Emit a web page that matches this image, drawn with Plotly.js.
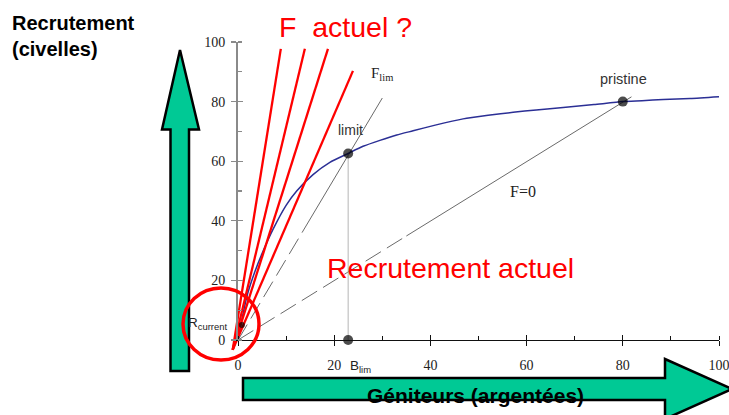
<!DOCTYPE html>
<html>
<head>
<meta charset="utf-8">
<script src="https://cdn.plot.ly/plotly-3.0.1.min.js"></script>
<style>
  html, body { margin: 0; padding: 0; background: #fff; }
  #chart { width: 729px; height: 415px; }
</style>
</head>
<body>
<div id="chart"></div>
<script>
// Stock–recruitment relationship (spawners vs recruits)
const spawners = [0, 1, 2, 3.5, 5, 7.3, 10, 12.2, 15.6, 19.1, 22.9, 26, 29.5, 33, 36.4, 41, 46.8, 52, 57.2, 62, 67.6, 74, 80, 84, 88.4, 94, 100];
const recruits = [0, 8.4, 15.5, 22.9, 29, 37.2, 45.2, 50, 55.5, 59.6, 62.6, 65, 67, 68.8, 70.2, 72.1, 74.2, 75.4, 76.4, 77.2, 78, 79, 80, 80.3, 80.7, 81.0, 81.6];

// Replacement lines: F_lim through the limit point, F=0 through the pristine point
const fLimX = [0, 15, 30];
const fLimY = [0, 40.6, 81.2];
const fZeroX = [0, 35, 81.8];
const fZeroY = [0, 34.9, 81.6];

// Current fishing mortality lines (start, end)
const fCurStartX = [-1.1, -1.1, -1.1, -1.1];
const fCurStartY = [-3.3, -3.3, -3.3, -3.3];
const fCurEndX = [8.9, 13.9, 18.7, 23.9];
const fCurEndY = [97.7, 97.7, 97.7, 90.3];

// Reference points
const pointX = [22.9, 80, 22.9, 0.8];
const pointY = [62.6, 80, 0, 5];
const pointSize = [10, 10, 10, 6];

// Axis ticks
const tickVals = [0, 20, 40, 60, 80, 100];

// Page geometry (pixels)
const W = 729, H = 415;
const PX0 = 238, PX100 = 719, PY0 = 340, PY100 = 42;
const xu = (PX100 - PX0) / 100, yu = (PY0 - PY100) / 100;
const px = v => v / W;
const py = v => 1 - v / H;

const serif = 'Liberation Serif, Times New Roman, serif';
const sans = 'Liberation Sans, Arial, sans-serif';

const traces = [];
// F_lim line: dashed low, solid above
traces.push({x: fLimX.slice(0, 2), y: fLimY.slice(0, 2), mode: 'lines',
  line: {color: '#6a6a6a', width: 1, dash: '18px,7px'}, hoverinfo: 'skip'});
traces.push({x: fLimX.slice(1), y: fLimY.slice(1), mode: 'lines',
  line: {color: '#6a6a6a', width: 1}, hoverinfo: 'skip'});
// F=0 line
traces.push({x: fZeroX.slice(0, 2), y: fZeroY.slice(0, 2), mode: 'lines',
  line: {color: '#6a6a6a', width: 1, dash: '18px,7px'}, hoverinfo: 'skip'});
traces.push({x: fZeroX.slice(1), y: fZeroY.slice(1), mode: 'lines',
  line: {color: '#6a6a6a', width: 1}, hoverinfo: 'skip'});
// Drop line from the limit point to B_lim
traces.push({x: [pointX[0], pointX[2]], y: [pointY[0], pointY[2]], mode: 'lines',
  line: {color: '#b5b5b5', width: 1}, hoverinfo: 'skip'});
// Stock-recruitment curve
traces.push({x: spawners, y: recruits, mode: 'lines',
  line: {color: '#2b2f95', width: 1.5, shape: 'spline', smoothing: 0.6}, hoverinfo: 'skip'});
// Current F lines
for (let i = 0; i < fCurEndX.length; i++) {
  traces.push({x: [fCurStartX[i], fCurEndX[i]], y: [fCurStartY[i], fCurEndY[i]], mode: 'lines',
    line: {color: '#ff0000', width: 2.3}, hoverinfo: 'skip'});
}
// Points on the visible axes
traces.push({x: pointX, y: pointY, xaxis: 'x2', yaxis: 'y2', mode: 'markers', cliponaxis: false,
  marker: {color: '#000', size: pointSize, line: {width: 0}}, hoverinfo: 'skip'});
// Anchor for the inner half of the major ticks
traces.push({x: pointX, y: pointY, xaxis: 'x3', yaxis: 'y3', mode: 'markers',
  marker: {opacity: 0}, hoverinfo: 'skip'});

const dom = {
  x: [PX0 / W, PX100 / W],
  y: [(H - PY0) / H, (H - PY100) / H]
};

const layout = {
  width: W, height: H,
  margin: {l: 0, r: 0, t: 0, b: 0},
  paper_bgcolor: '#fff', plot_bgcolor: 'rgba(0,0,0,0)',
  showlegend: false,
  xaxis: {range: [-PX0 / xu, (W - PX0) / xu], visible: false, fixedrange: true},
  yaxis: {range: [-(H - PY0) / yu, PY0 / yu], visible: false, fixedrange: true},
  xaxis2: {
    domain: dom.x, anchor: 'y2', range: [0, 100], fixedrange: true,
    showline: true, linecolor: '#111', linewidth: 1.2,
    ticks: 'outside', ticklen: 5, tickcolor: '#111', tickwidth: 1,
    tickvals: tickVals, ticktext: tickVals.map(String),
    tickfont: {family: serif, size: 14, color: '#222'}, ticklabelstandoff: 7,
    ticklabeloverflow: 'allow',
    minor: {ticks: 'inside', ticklen: 4, dtick: 10, tick0: 0, tickcolor: '#111', tickwidth: 1},
    showgrid: false, zeroline: false
  },
  yaxis2: {
    domain: dom.y, anchor: 'x2', range: [0, 100], fixedrange: true,
    showline: true, linecolor: '#8a8a8a', linewidth: 2,
    ticks: 'outside', ticklen: 5, tickcolor: '#8a8a8a', tickwidth: 1.2,
    tickvals: tickVals, ticktext: tickVals.map(String),
    tickfont: {family: serif, size: 14, color: '#222'}, ticklabelstandoff: 3,
    ticklabeloverflow: 'allow',
    minor: {ticks: 'inside', ticklen: 4, dtick: 10, tick0: 0, tickcolor: '#8a8a8a', tickwidth: 1.2},
    showgrid: false, zeroline: false
  },
  xaxis3: {
    domain: dom.x, anchor: 'y3', overlaying: 'x2', range: [0, 100], fixedrange: true,
    showline: false, ticks: 'inside', ticklen: 5, tickcolor: '#111', tickwidth: 1,
    tickvals: tickVals, showticklabels: false, showgrid: false, zeroline: false
  },
  yaxis3: {
    domain: dom.y, anchor: 'x3', overlaying: 'y2', range: [0, 100], fixedrange: true,
    showline: false, ticks: 'inside', ticklen: 5, tickcolor: '#8a8a8a', tickwidth: 1.2,
    tickvals: tickVals, showticklabels: false, showgrid: false, zeroline: false
  },
  shapes: [
    // Vertical arrow (recruitment)
    {type: 'path', xref: 'paper', yref: 'paper', layer: 'below',
     path: `M${px(170.5)},${py(371)} L${px(189)},${py(371)} L${px(189)},${py(129.5)} L${px(199)},${py(129.5)} ` +
           `L${px(180)},${py(50)} L${px(162)},${py(129.5)} L${px(170.5)},${py(129.5)} Z`,
     fillcolor: '#00c995', line: {color: '#000', width: 2.5}},
    // Horizontal arrow (spawners)
    {type: 'path', xref: 'paper', yref: 'paper', layer: 'below',
     path: `M${px(243)},${py(378)} L${px(665)},${py(378)} L${px(665)},${py(359)} L${px(732)},${py(389)} ` +
           `L${px(665)},${py(419)} L${px(665)},${py(400)} L${px(243)},${py(400)} Z`,
     fillcolor: '#00c995', line: {color: '#000', width: 2.5}},
    // Circle around current recruitment
    {type: 'circle', xref: 'paper', yref: 'paper', layer: 'above',
     x0: px(183), x1: px(259), y0: py(360), y1: py(288),
     line: {color: '#ff0000', width: 3.5}}
  ],
  annotations: [
    {xref: 'paper', yref: 'paper', x: px(10), y: py(10), xanchor: 'left', yanchor: 'top', align: 'left',
     text: '<b>Recrutement<br>(civelles)</b>', showarrow: false,
     font: {family: sans, size: 20, color: '#000'}},
    {xref: 'paper', yref: 'paper', x: px(345), y: py(27), xanchor: 'center', yanchor: 'middle',
     text: 'F\u00a0\u00a0actuel ?', showarrow: false,
     font: {family: sans, size: 28.5, color: '#ff0000'}},
    {xref: 'paper', yref: 'paper', x: px(450), y: py(268), xanchor: 'center', yanchor: 'middle',
     text: 'Recrutement actuel', showarrow: false,
     font: {family: sans, size: 28.5, color: '#ff0000'}},
    {xref: 'paper', yref: 'paper', x: px(369), y: py(74), xanchor: 'left', yanchor: 'middle',
     text: 'F<sub>lim</sub>', showarrow: false,
     font: {family: serif, size: 15, color: '#222'}},
    {xref: 'paper', yref: 'paper', x: px(350), y: py(130), xanchor: 'center', yanchor: 'middle',
     text: 'limit', showarrow: false,
     font: {family: sans, size: 14, color: '#333'}},
    {xref: 'paper', yref: 'paper', x: px(623.5), y: py(79), xanchor: 'center', yanchor: 'middle',
     text: 'pristine', showarrow: false,
     font: {family: sans, size: 14.5, color: '#333'}},
    {xref: 'paper', yref: 'paper', x: px(523), y: py(191), xanchor: 'center', yanchor: 'middle',
     text: 'F=0', showarrow: false,
     font: {family: serif, size: 16, color: '#222'}},
    {xref: 'paper', yref: 'paper', x: px(230), y: py(323), xanchor: 'right', yanchor: 'middle',
     text: 'R<sub>current</sub>', showarrow: false,
     font: {family: sans, size: 13.5, color: '#222'}},
    {xref: 'paper', yref: 'paper', x: px(348), y: py(366), xanchor: 'left', yanchor: 'middle',
     text: 'B<sub>lim</sub>', showarrow: false,
     font: {family: sans, size: 13.5, color: '#222'}},
    {xref: 'paper', yref: 'paper', x: px(476), y: py(395), xanchor: 'center', yanchor: 'middle',
     text: '<b>Géniteurs (argentées)</b>', showarrow: false,
     font: {family: sans, size: 21, color: '#000'}}
  ]
};

Plotly.newPlot('chart', traces, layout, {staticPlot: true, displayModeBar: false});
</script>
</body>
</html>
